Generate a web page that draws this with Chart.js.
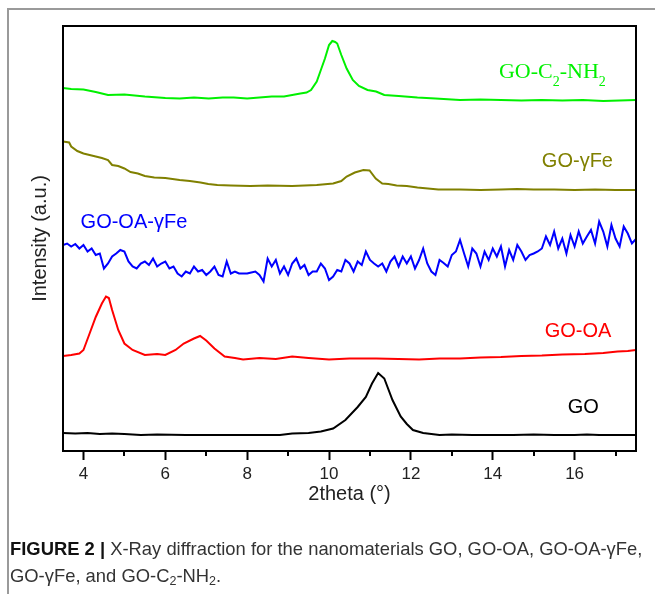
<!DOCTYPE html>
<html>
<head>
<meta charset="utf-8">
<script src="https://cdn.jsdelivr.net/npm/chart.js@4/dist/chart.umd.min.js"></script>
<style>
    body { margin: 0; background: #fff; }
    #wrap { position: relative; width: 655px; height: 594px; overflow: hidden; }
    #xrd { position: absolute; left: 0; top: 0; }
    .frame {
        position: absolute; left: 7px; top: 8px; right: -4px; bottom: -4px;
        border-left: 2px solid #9a9a9a; border-top: 2px solid #9a9a9a;
    }
    .caption {
        position: absolute; left: 10px; top: 535px; margin: 0; width: 645px;
        font-family: "Liberation Sans", Arial, sans-serif; font-size: 18.4px;
        line-height: 27px; color: #333; white-space: nowrap;
    }
    .caption b { color: #111; }
    .caption sub { font-size: 12.5px; vertical-align: -3px; line-height: 0; }
</style>
</head>
<body>
<div id="wrap">
    <canvas id="xrd" width="655" height="594"></canvas>
    <div class="frame"></div>
    <p class="caption"><b>FIGURE 2 |</b> X-Ray diffraction for the nanomaterials GO, GO-OA, GO-OA-γFe,<br>GO-γFe, and GO-C<sub>2</sub>-NH<sub>2</sub>.</p>
</div>
<script>
// 2theta (deg) / intensity (a.u., traces stacked with offsets)
const goAngle = [3.5, 3.8, 4.1, 4.4, 4.7, 5.0, 5.4, 5.8, 6.5, 7.2, 8.0, 8.8, 9.1, 9.5, 9.8, 10.1, 10.4, 10.7, 10.9, 11.05, 11.2, 11.35, 11.55, 11.75, 11.9, 12.05, 12.3, 12.7, 13.0, 13.5, 14.0, 14.5, 15.0, 15.5, 16.0, 16.3, 16.6, 17.0, 17.5];
const goInt = [18, 17.5, 18, 17, 17.5, 17, 16, 16.5, 16, 16, 16, 16, 17.5, 18, 19.5, 22.5, 31, 44, 54, 67.5, 78, 72.5, 51, 34.5, 27, 21, 18, 16, 16.5, 16, 16, 16, 16.5, 16, 16, 16.5, 16, 16, 16];

const oaAngle = [3.5, 3.7, 3.9, 4.0, 4.15, 4.3, 4.45, 4.55, 4.62, 4.7, 4.85, 5.0, 5.2, 5.5, 5.8, 6.0, 6.25, 6.45, 6.7, 6.85, 7.0, 7.2, 7.45, 7.7, 7.9, 8.3, 8.7, 9.1, 9.5, 10.0, 10.5, 11.15, 11.7, 12.2, 12.7, 13.2, 13.7, 14.2, 14.7, 15.2, 15.7, 16.25, 16.7, 17.05, 17.3, 17.5];
const oaInt = [95, 96, 97.5, 101, 117.5, 134, 147.5, 154.5, 153, 141, 121, 107.5, 101, 96, 97, 96, 101, 107.5, 112.5, 115, 110.5, 102.5, 94.5, 93, 91.5, 93, 92, 94.5, 93, 91.5, 92.5, 92.5, 92, 91.5, 92.5, 92.5, 93.5, 94, 95, 95.5, 96.5, 97, 98, 99.5, 100, 101];

const oaFeAngle = [3.5, 3.6, 3.7, 3.8, 3.9, 4.0, 4.1, 4.2, 4.3, 4.4, 4.5, 4.6, 4.7, 4.8, 4.9, 5.0, 5.1, 5.2, 5.3, 5.4, 5.5, 5.6, 5.7, 5.8, 5.9, 6.0, 6.1, 6.2, 6.3, 6.4, 6.5, 6.6, 6.7, 6.8, 6.9, 7.0, 7.1, 7.2, 7.3, 7.4, 7.5, 7.6, 7.7, 7.8, 7.9, 8.0, 8.1, 8.2, 8.3, 8.4, 8.5, 8.6, 8.7, 8.8, 8.9, 9.0, 9.1, 9.2, 9.3, 9.4, 9.5, 9.6, 9.7, 9.8, 9.9, 10.0, 10.1, 10.2, 10.3, 10.4, 10.5, 10.6, 10.7, 10.8, 10.9, 11.0, 11.1, 11.2, 11.3, 11.4, 11.5, 11.6, 11.7, 11.8, 11.9, 12.0, 12.1, 12.2, 12.3, 12.4, 12.5, 12.6, 12.7, 12.8, 12.9, 13.0, 13.1, 13.2, 13.3, 13.4, 13.5, 13.6, 13.7, 13.8, 13.9, 14.0, 14.1, 14.2, 14.3, 14.4, 14.5, 14.6, 14.7, 14.8, 14.9, 15.0, 15.1, 15.2, 15.3, 15.4, 15.5, 15.6, 15.7, 15.8, 15.9, 16.0, 16.1, 16.2, 16.3, 16.4, 16.5, 16.6, 16.7, 16.8, 16.9, 17.0, 17.1, 17.2, 17.3, 17.4, 17.5];
const oaFeInt = [206, 207.5, 204.5, 207, 202.5, 206, 199.5, 202.5, 196, 197.5, 182.5, 187.5, 194.5, 197.5, 201, 199.5, 189.5, 184.5, 182.5, 187.5, 189.5, 186, 192.5, 184.5, 187.5, 189.5, 182.5, 184.5, 177.5, 174.5, 179.5, 177.5, 184.5, 179.5, 181, 176, 179.5, 184.5, 176, 174.5, 189.5, 177.5, 179.5, 177.5, 177.5, 177.5, 178.5, 179.5, 176, 169.5, 192.5, 184.5, 191, 177.5, 184.5, 176, 187.5, 192.5, 182.5, 186, 176, 179.5, 179.5, 187.5, 182.5, 171, 174.5, 181, 179.5, 191, 187.5, 179.5, 189.5, 186, 199.5, 191, 187.5, 184.5, 187.5, 179.5, 189.5, 194.5, 184.5, 194.5, 187.5, 194.5, 182.5, 191, 202.5, 187.5, 179.5, 176, 191, 188, 184.5, 196, 199.5, 211, 197.5, 184.5, 202.5, 197.5, 184.5, 199.5, 191, 202.5, 194.5, 204.5, 184.5, 201, 191, 206, 199.5, 191, 196, 197.5, 199.5, 202.5, 214.5, 206, 219.5, 202.5, 212.5, 197.5, 216, 204.5, 219.5, 207.5, 214.5, 221, 207.5, 229.5, 219.5, 204.5, 226, 212.5, 204.5, 224.5, 217.5, 207.5, 212];

const feAngle = [3.5, 3.65, 3.7, 3.85, 4.0, 4.3, 4.45, 4.6, 4.7, 4.85, 5.0, 5.15, 5.33, 5.5, 5.73, 6.0, 6.35, 6.6, 6.86, 7.05, 7.27, 7.6, 8.08, 8.5, 9.1, 9.4, 9.7, 10.1, 10.3, 10.43, 10.63, 10.84, 10.99, 11.14, 11.3, 11.45, 11.65, 11.9, 12.16, 12.67, 13.2, 13.7, 14.2, 14.6, 15.0, 15.5, 16.0, 16.5, 17.0, 17.5];
const feInt = [309.5, 308.5, 304.5, 300, 297.5, 294.5, 293, 291, 286, 285, 282.5, 279, 277.5, 275, 273.5, 273, 271, 270, 268.5, 267, 266, 265.5, 265, 265.5, 265, 265.5, 266, 267.5, 270, 274.5, 278.5, 281, 280.5, 272.5, 267.5, 267, 265.5, 265, 263.5, 261.5, 261.5, 261, 261.5, 262, 261.5, 261.5, 261, 261.5, 261, 261];

const nh2Angle = [3.5, 3.7, 4.0, 4.3, 4.6, 5.0, 5.5, 6.0, 6.35, 6.7, 7.06, 7.4, 7.67, 8.0, 8.3, 8.6, 8.9, 9.1, 9.3, 9.45, 9.56, 9.7, 9.8, 9.9, 10.0, 10.08, 10.15, 10.2, 10.3, 10.43, 10.58, 10.73, 10.94, 11.15, 11.35, 11.7, 12.16, 12.6, 13.2, 13.7, 14.2, 14.7, 15.2, 15.7, 16.2, 16.7, 17.1, 17.5];
const nh2Int = [363, 362, 361.5, 359, 356, 356.5, 354.5, 353, 352.5, 353.5, 352.5, 353.5, 353.5, 352.5, 353.5, 354.5, 354.5, 356, 357.5, 358.5, 361, 369.5, 381, 392.5, 406, 410, 409, 407.5, 396, 382.5, 371, 365, 361, 359.5, 356, 355, 353.5, 352.5, 351, 351.5, 351, 350.5, 351, 350.5, 351, 350, 350.5, 351];

const xTicks = [4, 5, 6, 7, 8, 9, 10, 11, 12, 13, 14, 15, 16, 17];

const series = [
    { name: 'GO', angle: goAngle, counts: goInt, color: '#000000' },
    { name: 'GO-OA', angle: oaAngle, counts: oaInt, color: '#ff0000' },
    { name: 'GO-OA-γFe', angle: oaFeAngle, counts: oaFeInt, color: '#0000ff' },
    { name: 'GO-γFe', angle: feAngle, counts: feInt, color: '#808000' },
    { name: 'GO-C2-NH2', angle: nh2Angle, counts: nh2Int, color: '#00f000' }
];

// where each trace name sits (angle, intensity of the text baseline start)
const nameSpots = {
    'GO': [15.83, 38],
    'GO-OA': [15.27, 114],
    'GO-OA-γFe': [3.93, 223],
    'GO-γFe': [15.2, 284],
    'GO-C2-NH2': [14.15, 373]
};

const sans = '"Liberation Sans", Arial, sans-serif';
const serif = '"Liberation Serif", "Times New Roman", serif';

const framePlugin = {
    id: 'frameAndNames',
    afterDraw(chart) {
        const { ctx, chartArea: a, scales: { x, y } } = chart;
        ctx.save();

        // box round the plot
        ctx.strokeStyle = '#000';
        ctx.lineWidth = 2;
        ctx.strokeRect(a.left, a.top, a.right - a.left, a.bottom - a.top);

        // short ticks at the odd angles
        xTicks.filter(v => v % 2).forEach(v => {
            const px = Math.round(x.getPixelForValue(v));
            ctx.beginPath();
            ctx.moveTo(px, a.bottom);
            ctx.lineTo(px, a.bottom + 5);
            ctx.stroke();
        });

        // trace names
        ctx.textBaseline = 'alphabetic';
        series.forEach(s => {
            const [ax, ay] = nameSpots[s.name];
            let px = x.getPixelForValue(ax);
            const py = y.getPixelForValue(ay);
            ctx.fillStyle = s.color;
            if (s.name === 'GO-C2-NH2') {
                const parts = [['GO-C', 22, 0], ['2', 14, 8], ['-NH', 22, 0], ['2', 14, 8]];
                parts.forEach(([t, size, drop]) => {
                    ctx.font = `${size}px ${serif}`;
                    ctx.fillText(t, px, py + drop);
                    px += ctx.measureText(t).width;
                });
            } else {
                ctx.font = `20px ${sans}`;
                ctx.fillText(s.name, px, py);
            }
        });
        ctx.restore();
    }
};

new Chart(document.getElementById('xrd'), {
    type: 'line',
    data: {
        datasets: series.map(s => ({
            label: s.name,
            data: s.angle.map((a, i) => ({ x: a, y: s.counts[i] })),
            borderColor: s.color,
            borderWidth: 2,
            pointRadius: 0,
            tension: 0,
            fill: false
        }))
    },
    options: {
        responsive: false,
        animation: false,
        devicePixelRatio: 1,
        layout: { padding: { left: 0, top: 26, right: 19, bottom: 0 } },
        plugins: {
            legend: { display: false },
            tooltip: { enabled: false }
        },
        scales: {
            x: {
                type: 'linear',
                min: 3.5,
                max: 17.5,
                afterBuildTicks: scale => { scale.ticks = xTicks.map(v => ({ value: v })); },
                afterFit: scale => { scale.height = 143; },
                ticks: {
                    autoSkip: false,
                    maxRotation: 0,
                    padding: 4,
                    color: '#222',
                    font: { family: sans, size: 17 },
                    callback: v => (v % 2 ? '' : String(v))
                },
                grid: {
                    drawOnChartArea: false,
                    tickLength: 9,
                    tickWidth: 2,
                    tickColor: c => (c.tick && c.tick.value % 2 ? 'rgba(0,0,0,0)' : '#000')
                },
                border: { display: false },
                title: {
                    display: true,
                    text: '2theta (°)',
                    color: '#222',
                    font: { family: sans, size: 20 },
                    padding: { top: 0, bottom: 88 }
                }
            },
            y: {
                min: 0,
                max: 425,
                afterFit: scale => { scale.width = 63; },
                ticks: { display: false },
                grid: { display: false },
                border: { display: false },
                title: {
                    display: true,
                    text: 'Intensity (a.u.)',
                    color: '#222',
                    font: { family: sans, size: 20 },
                    padding: { top: 28, bottom: 0 }
                }
            }
        }
    },
    plugins: [framePlugin]
});
</script>
</body>
</html>
